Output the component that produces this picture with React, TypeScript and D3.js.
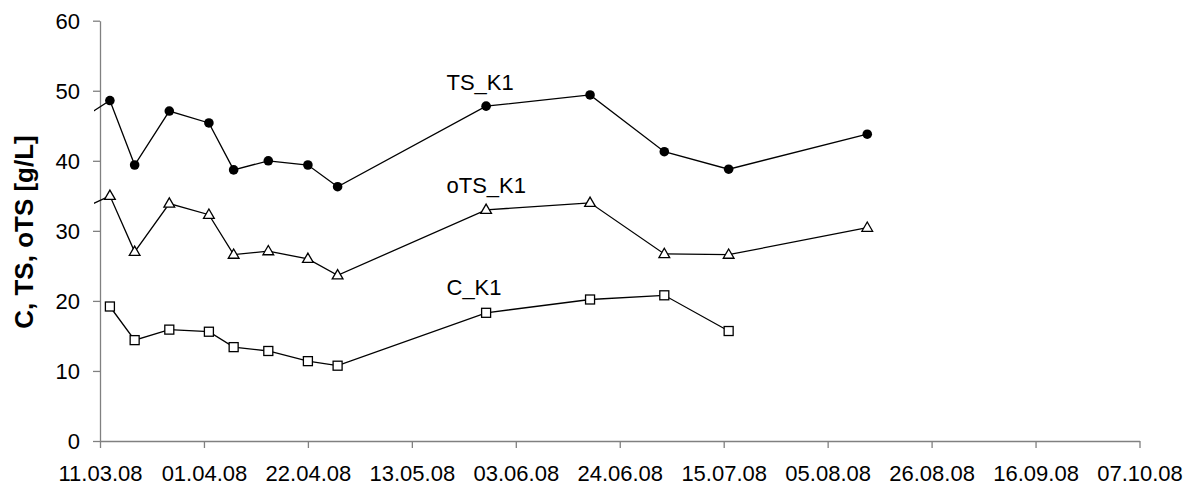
import { useEffect, useRef } from "react";
import * as d3 from "d3";

// sampling dates (dd.mm.yy); the first entry of TS/oTS lies before the axis start
const leadDate = "04.03.08";
const dates = [
  "13.03.08", "18.03.08", "25.03.08", "02.04.08", "07.04.08", "14.04.08",
  "22.04.08", "28.04.08", "28.05.08", "18.06.08", "03.07.08", "16.07.08", "13.08.08",
];
const tsK1 = [48.6, 39.4, 47.1, 45.4, 38.7, 40.0, 39.4, 36.3, 47.8, 49.4, 41.3, 38.8, 43.8];
const otsK1 = [35.0, 27.0, 33.9, 32.3, 26.6, 27.1, 26.0, 23.65, 33.0, 34.0, 26.7, 26.6, 30.45];
const cK1 = [19.2, 14.4, 15.9, 15.6, 13.4, 12.85, 11.4, 10.75, 18.3, 20.2, 20.8, 15.7];
const tsLead = 44.5;
const otsLead = 32.0;

const xTickLabels = [
  "11.03.08", "01.04.08", "22.04.08", "13.05.08", "03.06.08", "24.06.08",
  "15.07.08", "05.08.08", "26.08.08", "16.09.08", "07.10.08",
];
const yTicks = [0, 10, 20, 30, 40, 50, 60];

// series labels: [text, date, value]
const seriesLabels: [string, string, number][] = [
  ["TS_K1", "20.05.08", 50.1],
  ["oTS_K1", "20.05.08", 35.4],
  ["C_K1", "20.05.08", 20.8],
];

const parse = d3.timeParse("%d.%m.%y");
const FONT = "'Liberation Sans', Arial, sans-serif";

export default function App() {
  const ref = useRef<SVGSVGElement | null>(null);

  useEffect(() => {
    document.body.style.margin = "0";
    const svg = d3.select(ref.current);
    svg.selectAll("*").remove();

    const W = 1192;
    const H = 487;
    const m = { left: 100, right: 52.5, top: 20.7, bottom: 46 };

    const x = d3
      .scaleTime()
      .domain([parse(xTickLabels[0])!, parse(xTickLabels[xTickLabels.length - 1])!])
      .range([m.left, W - m.right]);
    const y = d3.scaleLinear().domain([0, 60]).range([H - m.bottom, m.top]);

    svg
      .append("defs")
      .append("clipPath")
      .attr("id", "plot-clip")
      .append("rect")
      .attr("x", m.left - 6)
      .attr("y", 0)
      .attr("width", W - m.left - m.right + 6)
      .attr("height", H - m.bottom);

    // axes
    const axisColor = "#808080";
    const gy = svg.append("g").attr("transform", `translate(${m.left},0)`);
    gy.call(d3.axisLeft(y).tickValues(yTicks).tickSize(7).tickSizeOuter(0).tickPadding(13));
    const gx = svg.append("g").attr("transform", `translate(0,${H - m.bottom})`);
    gx.call(
      d3
        .axisBottom(x)
        .tickValues(xTickLabels.map((s) => parse(s)!))
        .tickFormat((_, i) => xTickLabels[i])
        .tickSize(7)
        .tickSizeOuter(0)
        .tickPadding(17)
    );
    [gx, gy].forEach((g) => {
      g.select(".domain").attr("stroke", axisColor).attr("stroke-width", 1.3);
      g.selectAll(".tick line").attr("stroke", axisColor).attr("stroke-width", 1.3);
      g.selectAll(".tick text")
        .attr("fill", "#000")
        .attr("font-family", FONT)
        .attr("font-size", 22);
    });
    gy.selectAll(".tick text").attr("dy", "0.36em");

    // axis title
    svg
      .append("text")
      .attr("transform", `translate(33,232) rotate(-90)`)
      .attr("text-anchor", "middle")
      .attr("font-family", FONT)
      .attr("font-weight", "bold")
      .attr("font-size", 26)
      .text("C, TS, oTS [g/L]");

    const plot = svg.append("g").attr("clip-path", "url(#plot-clip)");
    const line = d3
      .line<[Date, number]>()
      .x((d) => x(d[0]))
      .y((d) => y(d[1]));

    const dts = dates.map((s) => parse(s)!);
    const tsPts: [Date, number][] = tsK1.map((v, i) => [dts[i], v]);
    const otsPts: [Date, number][] = otsK1.map((v, i) => [dts[i], v]);
    const cPts: [Date, number][] = cK1.map((v, i) => [dts[i], v]);
    const lead = parse(leadDate)!;

    const drawLine = (pts: [Date, number][]) =>
      plot
        .append("path")
        .attr("d", line(pts))
        .attr("fill", "none")
        .attr("stroke", "#000")
        .attr("stroke-width", 1.3);

    drawLine([[lead, tsLead], ...tsPts]);
    drawLine([[lead, otsLead], ...otsPts]);
    drawLine(cPts);

    // markers
    svg
      .append("g")
      .selectAll("circle")
      .data(tsPts)
      .join("circle")
      .attr("cx", (d) => x(d[0]))
      .attr("cy", (d) => y(d[1]))
      .attr("r", 4.8)
      .attr("fill", "#000");

    const tri = d3.symbol().type(d3.symbolTriangle).size(50);
    svg
      .append("g")
      .selectAll("path")
      .data(otsPts)
      .join("path")
      .attr("d", tri()!)
      .attr("transform", (d) => `translate(${x(d[0])},${y(d[1]) + 0.5})`)
      .attr("fill", "#fff")
      .attr("stroke", "#000")
      .attr("stroke-width", 1.3);

    const s = 9;
    svg
      .append("g")
      .selectAll("rect")
      .data(cPts)
      .join("rect")
      .attr("x", (d) => x(d[0]) - s / 2)
      .attr("y", (d) => y(d[1]) - s / 2)
      .attr("width", s)
      .attr("height", s)
      .attr("fill", "#fff")
      .attr("stroke", "#000")
      .attr("stroke-width", 1.3);

    // series labels
    svg
      .append("g")
      .selectAll("text")
      .data(seriesLabels)
      .join("text")
      .attr("x", (d) => x(parse(d[1])!))
      .attr("y", (d) => y(d[2]))
      .attr("font-family", FONT)
      .attr("font-size", 22)
      .text((d) => d[0]);
  }, []);

  return (
    <svg
      ref={ref}
      width={1192}
      height={487}
      style={{ display: "block", background: "#fff" }}
    />
  );
}
